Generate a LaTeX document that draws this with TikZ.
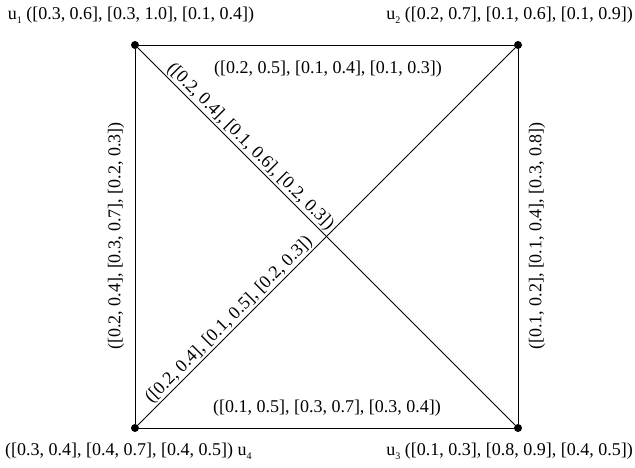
\documentclass[tikz,border=0pt]{standalone}
\usepackage{fontspec}
\setmainfont{Liberation Serif}
\newcommand{\usub}[1]{u\raisebox{-0.45ex}{\fontsize{10}{10}\selectfont #1}}
\begin{document}
\begin{tikzpicture}[x=1pt,y=-1pt,
  lbl/.style={font=\fontsize{18}{21}\selectfont, inner sep=1pt},
  vtx/.style={circle, fill=black, inner sep=0pt, minimum size=8pt},
  edge/.style={line width=0.85pt}]
\useasboundingbox (0,0) rectangle (635,468);
\node[vtx] (u1) at (135,45) {};
\node[vtx] (u2) at (518,45) {};
\node[vtx] (u3) at (518,428) {};
\node[vtx] (u4) at (135,428) {};
\draw[edge] (u1) -- (u2) -- (u3) -- (u4) -- (u1);
\draw[edge] (u1) -- node[lbl, sloped, above, pos=0.28] (d1) {([0.2, 0.4], [0.1, 0.6], [0.2, 0.3])} (u3);
\draw[edge] (u4) -- node[lbl, sloped, above, pos=0.26] (d2) {([0.2, 0.4], [0.1, 0.5], [0.2, 0.3])} (u2);
\node[lbl] (t1) at (131,15) {\usub{1} ([0.3, 0.6], [0.3, 1.0], [0.1, 0.4])};
\node[lbl, anchor=east] (t2) at (634,15) {\usub{2} ([0.2, 0.7], [0.1, 0.6], [0.1, 0.9])};
\node[lbl, anchor=east] (t3) at (634,451) {\usub{3} ([0.1, 0.3], [0.8, 0.9], [0.4, 0.5])};
\node[lbl, anchor=west] (t4) at (4,451) {([0.3, 0.4], [0.4, 0.7], [0.4, 0.5]) \usub{4}};
\node[lbl] (e12) at (328,69) {([0.2, 0.5], [0.1, 0.4], [0.1, 0.3])};
\node[lbl] (e34) at (327,408) {([0.1, 0.5], [0.3, 0.7], [0.3, 0.4])};
\node[lbl, rotate=90] (e14) at (116,236) {([0.2, 0.4], [0.3, 0.7], [0.2, 0.3])};
\node[lbl, rotate=90] (e23) at (537,236) {([0.1, 0.2], [0.1, 0.4], [0.3, 0.8])};
\end{tikzpicture}
\end{document}
